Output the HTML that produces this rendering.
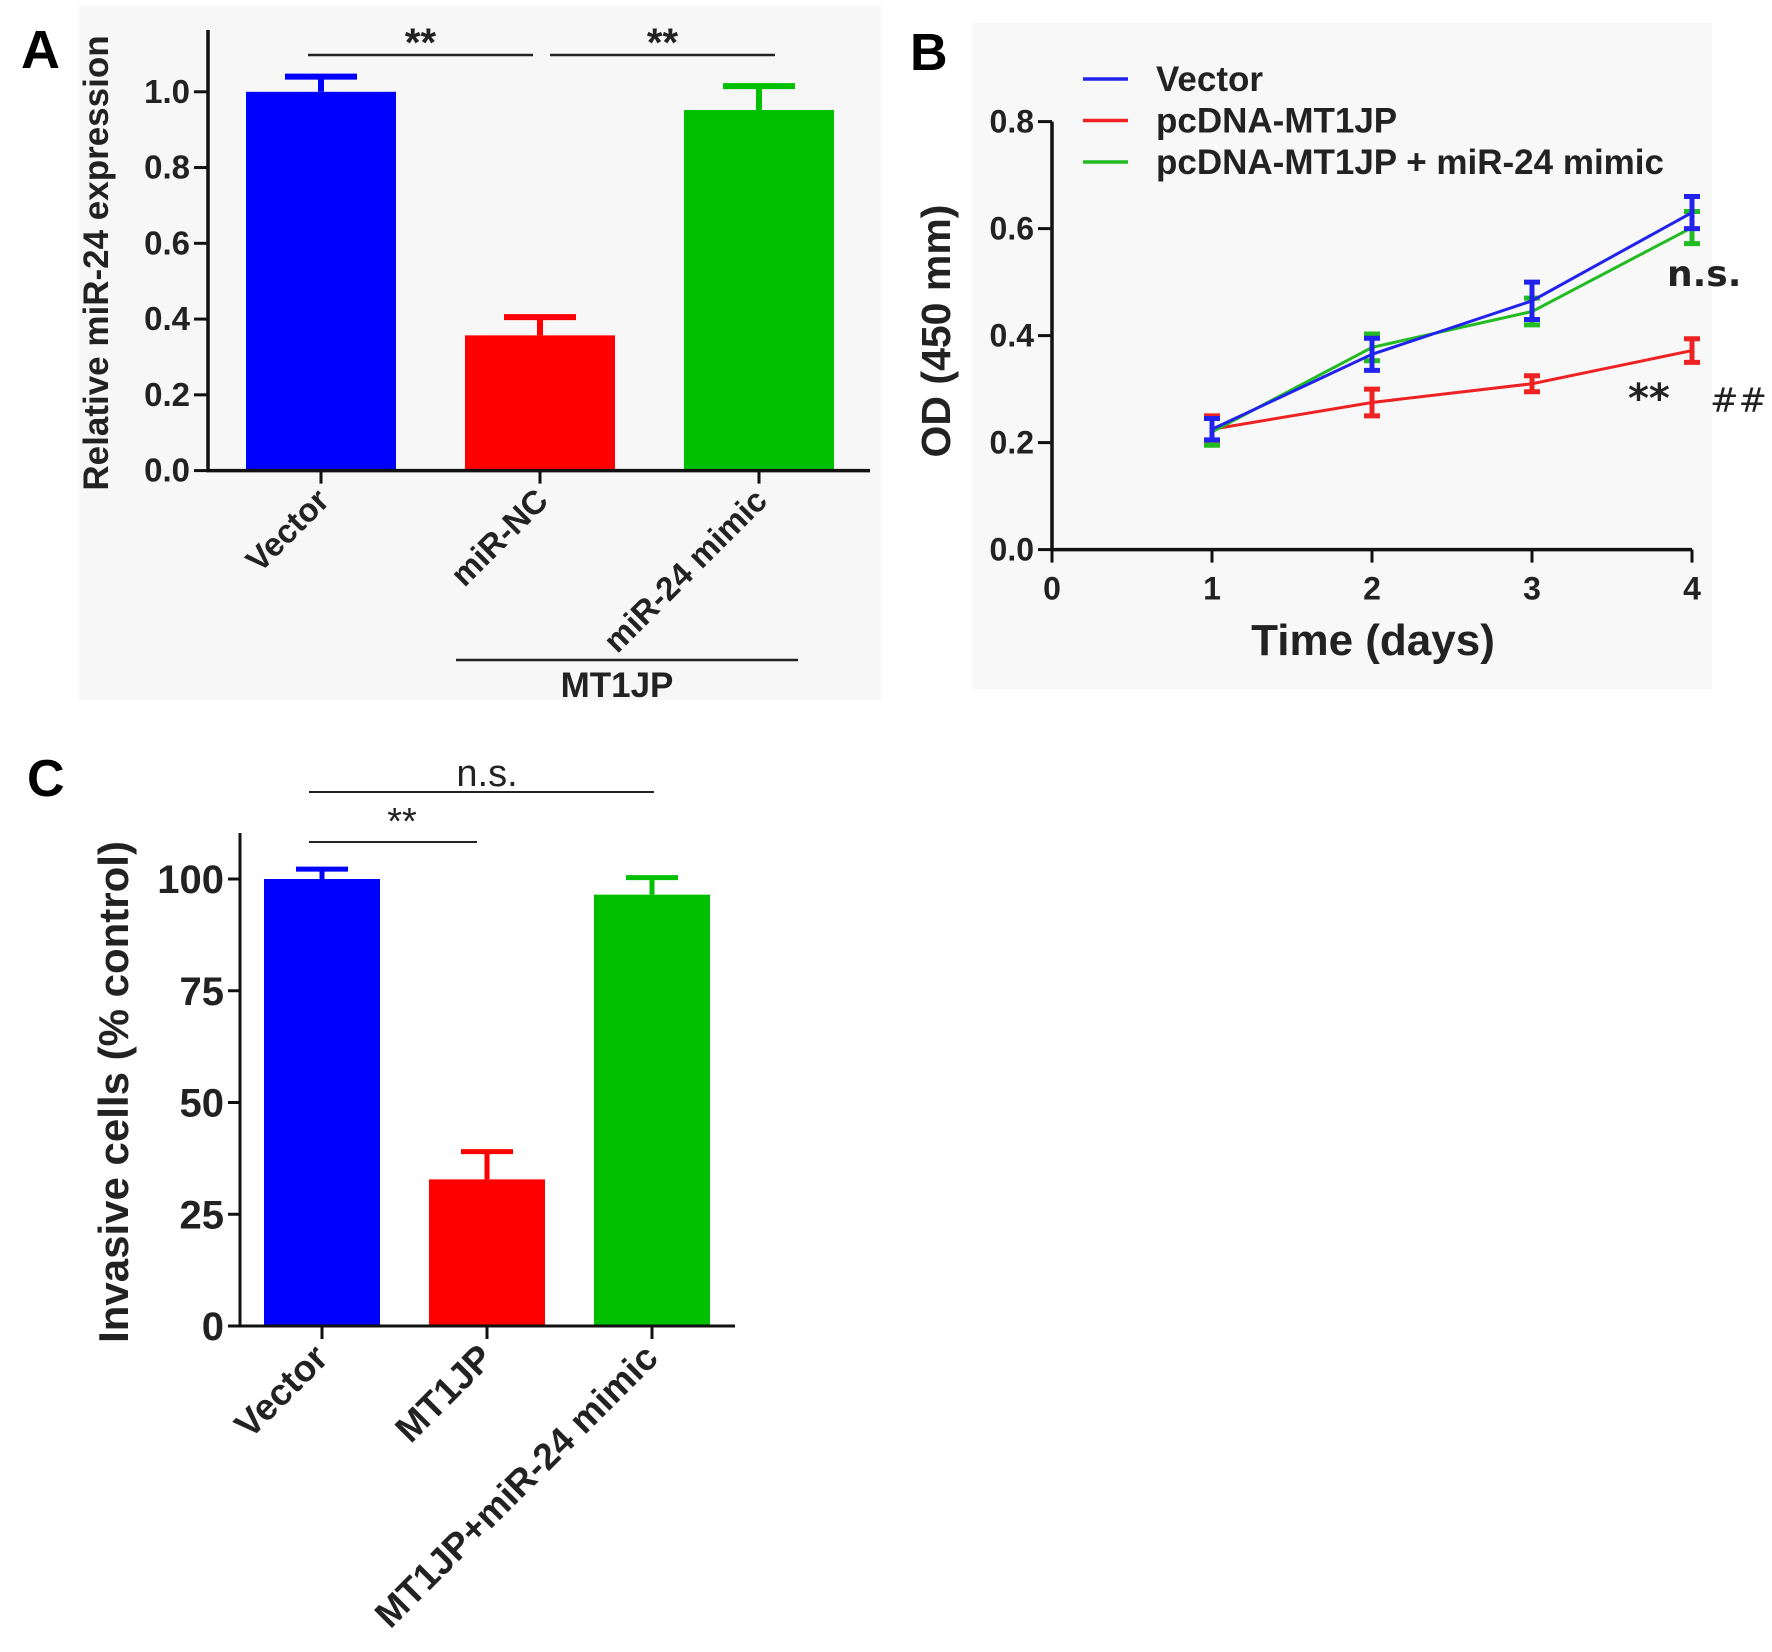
<!DOCTYPE html>
<html><head><meta charset="utf-8"><style>
html,body{margin:0;padding:0;background:#fff}
svg{display:block;font-family:"Liberation Sans",Arial,sans-serif}
</style></head><body>
<svg id="fig" width="1772" height="1652" viewBox="0 0 1772 1652" xmlns="http://www.w3.org/2000/svg">
<rect x="0" y="0" width="1772" height="1652" fill="#fff"/>
<rect x="79" y="6" width="802" height="694" fill="#f7f7f7"/>
<rect x="972" y="23" width="740" height="666" fill="#f8f8f8"/>
<g id="gA"></g>
<g id="gB"></g>
<g id="gC"></g>
</svg>
<script>
// Panel A data
const aCats = ["Vector", "miR-NC", "miR-24 mimic"];
const aVals = [1.0, 0.357, 0.952];
const aErr = [0.04, 0.048, 0.063];
const aTicks = [0.0, 0.2, 0.4, 0.6, 0.8, 1.0];
// Panel B data
const bDays = [1, 2, 3, 4];
const bVector = [0.225, 0.365, 0.465, 0.63];
const bVectorErr = [0.02, 0.03, 0.035, 0.03];
const bMT1JP = [0.225, 0.275, 0.31, 0.372];
const bMT1JPErr = [0.025, 0.025, 0.015, 0.022];
const bMimic = [0.22, 0.378, 0.445, 0.602];
const bMimicErr = [0.025, 0.025, 0.025, 0.03];
const bYTicks = [0.0, 0.2, 0.4, 0.6, 0.8];
const bXTicks = [0, 1, 2, 3, 4];
// Panel C data
const cCats = ["Vector", "MT1JP", "MT1JP+miR-24 mimic"];
const cVals = [100, 32.8, 96.5];
const cErr = [2.2, 6.2, 3.8];
const cTicks = [0, 25, 50, 75, 100];

const NS = "http://www.w3.org/2000/svg";
const COLORS = ["#0000ff", "#ff0000", "#00c000"];
function mk(parent, tag, attrs, text) {
  const e = document.createElementNS(NS, tag);
  for (const k in attrs) e.setAttribute(k, attrs[k]);
  if (text !== undefined) e.textContent = text;
  parent.appendChild(e);
  return e;
}

// ---------- Panel A ----------
(function () {
  const g = document.getElementById("gA");
  const x0 = 208, yBase = 470.6, yTop = 30, xEnd = 870;
  const y = v => yBase - v * 378.8;
  const centers = [321, 540, 759], bw = 150;
  let e;
  e = mk(g, "text", {x: 21, y: 68, "font-size": 54, "font-weight": "bold"}, "A");
  
  
  aVals.forEach((v, i) => {
    const c = centers[i];
    e = mk(g, "rect", {x: c - bw / 2, y: y(v), width: bw, height: yBase - y(v), fill: COLORS[i]});
    
    
    e = mk(g, "path", {d: `M${c} ${y(v)}V${y(v + aErr[i])}M${c - 36} ${y(v + aErr[i])}H${c + 36}`, stroke: COLORS[i], "stroke-width": 6, fill: "none"});
    
    
    e = mk(g, "line", {x1: c, x2: c, y1: yBase, y2: yBase + 13, stroke: "#111", "stroke-width": 3});
    
    
    e = mk(g, "text", {x: c + 10, y: yBase + 32, "font-size": 33, "font-weight": "bold", "text-anchor": "end", fill: "#222", transform: `rotate(-45 ${c + 10} ${yBase + 32})`}, aCats[i]);
    
    
  });
  e = mk(g, "path", {d: `M${x0} ${yTop}V${yBase}H${xEnd}`, stroke: "#111", "stroke-width": 3.5, fill: "none"});
  
  
  aTicks.forEach(t => {
    e = mk(g, "line", {x1: x0 - 14, x2: x0, y1: y(t), y2: y(t), stroke: "#111", "stroke-width": 3});
    
    
    e = mk(g, "text", {x: x0 - 18, y: y(t) + 11, "font-size": 33, "font-weight": "bold", "text-anchor": "end", fill: "#222"}, t.toFixed(1));
    
    
  });
  e = mk(g, "text", {x: 108, y: 263, "font-size": 35, "font-weight": "bold", "text-anchor": "middle", fill: "#222", transform: "rotate(-90 108 263)"}, "Relative miR-24 expression");
  
  
  [[308, 533], [550, 775]].forEach((s, i) => {
    e = mk(g, "line", {x1: s[0], x2: s[1], y1: 55, y2: 55, stroke: "#222", "stroke-width": 2.5});
    
    
    e = mk(g, "text", {x: (s[0] + s[1]) / 2, y: 56, "font-size": 40, "font-weight": "bold", "text-anchor": "middle", fill: "#222"}, "**");
    
    
  });
  e = mk(g, "line", {x1: 456, x2: 798, y1: 660, y2: 660, stroke: "#222", "stroke-width": 2.5});
  
  
  e = mk(g, "text", {x: 617, y: 697, "font-size": 35, "font-weight": "bold", "text-anchor": "middle", fill: "#222"}, "MT1JP");
  
  
})();

// ---------- Panel B ----------
(function () {
  const g = document.getElementById("gB");
  const x0 = 1052, yBase = 549.6;
  const x = d => x0 + d * 160;
  const y = v => yBase - v * 535;
  let e;
  e = mk(g, "text", {x: 910, y: 70, "font-size": 52, "font-weight": "bold"}, "B");
  
  
  e = mk(g, "path", {d: `M${x0} ${y(0.8)}V${yBase}H${x(4)}`, stroke: "#111", "stroke-width": 3.5, fill: "none"});
  
  
  bYTicks.forEach(t => {
    e = mk(g, "line", {x1: x0 - 14, x2: x0, y1: y(t), y2: y(t), stroke: "#111", "stroke-width": 3});
    
    
    e = mk(g, "text", {x: x0 - 18, y: y(t) + 11, "font-size": 32, "font-weight": "bold", "text-anchor": "end", fill: "#222"}, t.toFixed(1));
    
    
  });
  bXTicks.forEach(t => {
    e = mk(g, "line", {x1: x(t), x2: x(t), y1: yBase, y2: yBase + 13, stroke: "#111", "stroke-width": 3});
    
    
    e = mk(g, "text", {x: x(t), y: yBase + 50, "font-size": 32, "font-weight": "bold", "text-anchor": "middle", fill: "#222"}, String(t));
    
    
  });
  e = mk(g, "text", {x: 1373, y: 655, "font-size": 44, "font-weight": "bold", "text-anchor": "middle", fill: "#222"}, "Time (days)");
  
  
  e = mk(g, "text", {x: 950, y: 331, "font-size": 41, "font-weight": "bold", "text-anchor": "middle", fill: "#222", transform: "rotate(-90 950 331)"}, "OD (450 mm)");
  
  
  const series = [
    ["vector", bVector, bVectorErr, "#2222ee"],
    ["pcdna-mt1jp", bMT1JP, bMT1JPErr, "#ee2222"],
    ["pcdna-mt1jp-mir24", bMimic, bMimicErr, "#22bb22"]
  ];
  [1, 2, 0].forEach(si => {
    const [nm, vals, errs, col] = series[si];
    const pts = vals.map((v, i) => `${x(bDays[i])},${y(v)}`).join(" ");
    e = mk(g, "polyline", {points: pts, fill: "none", stroke: col, "stroke-width": 3});
    
    
    vals.forEach((v, i) => {
      const cx = x(bDays[i]), t = y(v + errs[i]), b = y(v - errs[i]);
      e = mk(g, "path", {d: `M${cx} ${t}V${b}M${cx - 8} ${t}H${cx + 8}M${cx - 8} ${b}H${cx + 8}`, stroke: col, "stroke-width": 5, fill: "none"});
      
      
    });
  });
  const leg = ["Vector", "pcDNA-MT1JP", "pcDNA-MT1JP + miR-24 mimic"];
  leg.forEach((l, i) => {
    const ly = 79 + i * 41.5;
    e = mk(g, "line", {x1: 1083, x2: 1128, y1: ly, y2: ly, stroke: series[i][3], "stroke-width": 3.5});
    
    
    e = mk(g, "text", {x: 1156, y: ly + 12, "font-size": 35, "font-weight": "bold", fill: "#222"}, l);
    
    
  });
  e = mk(g, "text", {x: 1667, y: 286, "font-size": 36, "font-weight": "bold", fill: "#222", "font-family": "DejaVu Sans, sans-serif"}, "n.s.");
  
  
  e = mk(g, "text", {x: 1628, y: 412, "font-size": 40, "font-weight": "bold", fill: "#222", "font-family": "DejaVu Sans, sans-serif"}, "**");
  
  
  e = mk(g, "text", {x: 1710, y: 412, "font-size": 34, fill: "#222", "font-family": "DejaVu Sans, sans-serif"}, "##");
  
  
})();

// ---------- Panel C ----------
(function () {
  const g = document.getElementById("gC");
  const x0 = 240, yBase = 1326, yTop = 833, xEnd = 735;
  const y = v => yBase - v * 4.47;
  const centers = [322, 487, 652], bw = 116;
  let e;
  e = mk(g, "text", {x: 27, y: 796, "font-size": 52, "font-weight": "bold"}, "C");
  
  
  cVals.forEach((v, i) => {
    const c = centers[i];
    e = mk(g, "rect", {x: c - bw / 2, y: y(v), width: bw, height: yBase - y(v), fill: COLORS[i]});
    
    
    e = mk(g, "path", {d: `M${c} ${y(v)}V${y(v + cErr[i])}M${c - 26} ${y(v + cErr[i])}H${c + 26}`, stroke: COLORS[i], "stroke-width": 5, fill: "none"});
    
    
    e = mk(g, "line", {x1: c, x2: c, y1: yBase, y2: yBase + 13, stroke: "#111", "stroke-width": 3});
    
    
    e = mk(g, "text", {x: c + 8, y: yBase + 34, "font-size": 37, "font-weight": "bold", "text-anchor": "end", fill: "#222", transform: `rotate(-45 ${c + 8} ${yBase + 34})`}, cCats[i]);
    
    
  });
  e = mk(g, "path", {d: `M${x0} ${yTop}V${yBase}H${xEnd}`, stroke: "#111", "stroke-width": 3, fill: "none"});
  
  
  cTicks.forEach(t => {
    e = mk(g, "line", {x1: x0 - 12, x2: x0, y1: y(t), y2: y(t), stroke: "#111", "stroke-width": 3});
    
    
    e = mk(g, "text", {x: x0 - 16, y: y(t) + 14, "font-size": 40, "font-weight": "bold", "text-anchor": "end", fill: "#222"}, String(t));
    
    
  });
  e = mk(g, "text", {x: 128, y: 1092, "font-size": 42, "font-weight": "bold", "text-anchor": "middle", fill: "#222", transform: "rotate(-90 128 1092)"}, "Invasive cells (% control)");
  
  
  e = mk(g, "line", {x1: 309, x2: 654, y1: 792, y2: 792, stroke: "#222", "stroke-width": 2});
  
  
  e = mk(g, "text", {x: 487, y: 786, "font-size": 38, "text-anchor": "middle", fill: "#222"}, "n.s.");
  
  
  e = mk(g, "line", {x1: 309, x2: 477, y1: 842, y2: 842, stroke: "#222", "stroke-width": 2});
  
  
  e = mk(g, "text", {x: 402, y: 834, "font-size": 38, "text-anchor": "middle", fill: "#222"}, "**");
  
  
})();
</script>
</body></html>
